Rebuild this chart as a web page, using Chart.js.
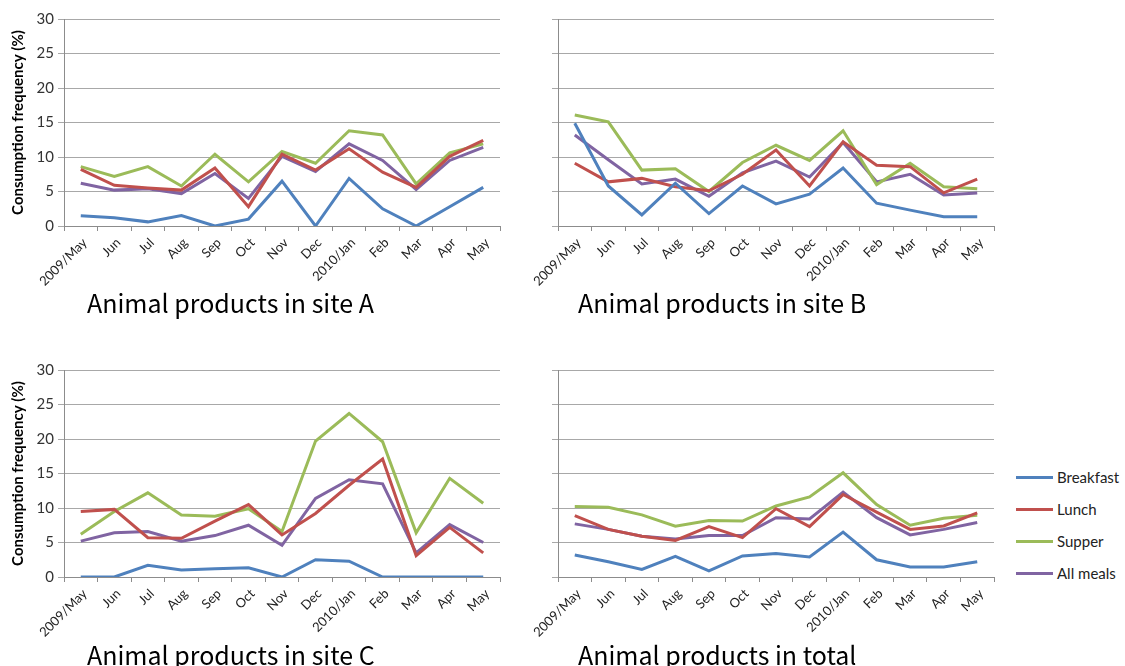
<!DOCTYPE html>
<html>
<head>
<meta charset="utf-8">
<script src="https://cdn.jsdelivr.net/npm/chart.js@4/dist/chart.umd.min.js"></script>
<style>
  html, body { margin: 0; padding: 0; background: #fff; }
  body { width: 1125px; height: 666px; position: relative; overflow: hidden; }
  .panel { position: absolute; width: 505px; height: 300px; }
  .panel canvas { display: block; }
  .ptitle { position: absolute; font-family: "Noto Sans CJK JP", "Noto Sans", sans-serif; font-size: 25px; color: #000; white-space: nowrap; line-height: 1; }
  #legend { position: absolute; left: 1016px; top: 461px; font-family: Lato, "Open Sans", sans-serif; font-size: 15px; color: #222; }
  .lg-row { height: 32px; display: flex; align-items: center; }
  .lg-line { width: 37px; height: 3px; margin-right: 4px; }
</style>
</head>
<body>
<div class="panel" id="pA" style="left:0; top:0;"><canvas id="cA" width="505" height="300"></canvas></div>
<div class="panel" id="pB" style="left:494px; top:0;"><canvas id="cB" width="505" height="300"></canvas></div>
<div class="panel" id="pC" style="left:0; top:351px;"><canvas id="cC" width="505" height="300"></canvas></div>
<div class="panel" id="pD" style="left:494px; top:351px;"><canvas id="cD" width="505" height="300"></canvas></div>
<div class="ptitle" style="left:87px; top:290px;">Animal products in site A</div>
<div class="ptitle" style="left:578px; top:290px;">Animal products in site B</div>
<div class="ptitle" style="left:87px; top:642px;">Animal products in site C</div>
<div class="ptitle" style="left:578px; top:642px;">Animal products in total</div>
<div id="legend"></div>
<script>
// Month labels, May 2009 through May 2010
const months = ['2009/May','Jun','Jul','Aug','Sep','Oct','Nov','Dec','2010/Jan','Feb','Mar','Apr','May'];
const seriesNames = ['Breakfast','Lunch','Supper','All meals'];
const seriesColors = ['#4F81BD','#C0504D','#9BBB59','#8064A2'];
const yTicks = [0, 5, 10, 15, 20, 25, 30];

// Consumption frequency (%) of animal products — site A
const siteA_breakfast = [1.5, 1.2, 0.6, 1.5, 0.0, 1.0, 6.5, 0.0, 6.9, 2.5, 0.0, 2.8, 5.6];
const siteA_lunch     = [8.2, 5.9, 5.5, 5.2, 8.4, 2.8, 10.4, 8.1, 11.2, 7.8, 5.6, 10.1, 12.4];
const siteA_supper    = [8.6, 7.2, 8.6, 5.8, 10.4, 6.4, 10.8, 9.1, 13.8, 13.2, 6.1, 10.6, 11.9];
const siteA_all       = [6.2, 5.2, 5.4, 4.7, 7.6, 4.0, 10.1, 7.9, 11.9, 9.5, 5.3, 9.5, 11.4];

// Site B
const siteB_breakfast = [14.9, 5.8, 1.6, 6.2, 1.8, 5.8, 3.2, 4.6, 8.4, 3.3, 2.3, 1.35, 1.35];
const siteB_lunch     = [9.1, 6.4, 6.9, 5.7, 5.1, 7.5, 11.0, 5.8, 12.2, 8.8, 8.6, 4.8, 6.8];
const siteB_supper    = [16.1, 15.1, 8.1, 8.3, 5.0, 9.2, 11.7, 9.5, 13.8, 6.0, 9.1, 5.7, 5.4];
const siteB_all       = [13.2, 9.6, 6.1, 6.8, 4.3, 7.7, 9.4, 7.1, 12.1, 6.4, 7.5, 4.5, 4.8];

// Site C
const siteC_breakfast = [0.0, 0.0, 1.7, 1.0, 1.2, 1.35, 0.0, 2.5, 2.3, 0.0, 0.0, 0.0, 0.0];
const siteC_lunch     = [9.5, 9.8, 5.7, 5.6, 8.1, 10.5, 6.1, 9.2, 13.3, 17.1, 3.1, 7.2, 3.5];
const siteC_supper    = [6.2, 9.5, 12.2, 9.0, 8.8, 9.9, 6.6, 19.7, 23.7, 19.6, 6.4, 14.3, 10.7];
const siteC_all       = [5.2, 6.4, 6.6, 5.2, 6.0, 7.5, 4.6, 11.4, 14.1, 13.5, 3.5, 7.6, 5.0];

// All sites combined
const total_breakfast = [3.2, 2.2, 1.1, 3.0, 0.9, 3.05, 3.4, 2.9, 6.5, 2.5, 1.45, 1.45, 2.2];
const total_lunch     = [8.9, 6.9, 5.9, 5.3, 7.3, 5.7, 9.9, 7.3, 11.95, 9.4, 6.9, 7.4, 9.3];
const total_supper    = [10.2, 10.1, 9.0, 7.35, 8.2, 8.1, 10.3, 11.6, 15.1, 10.5, 7.5, 8.5, 8.95];
const total_all       = [7.7, 6.9, 5.9, 5.5, 6.0, 6.0, 8.6, 8.4, 12.3, 8.6, 6.1, 6.9, 7.9];

const tickFont = 'Lato, "Open Sans", sans-serif';

function makeChart(id, seriesList, showYLabels) {
  const datasets = seriesList.map((vals, i) => ({
    label: seriesNames[i],
    data: vals,
    borderColor: seriesColors[i],
    backgroundColor: seriesColors[i],
    borderWidth: 3,
    pointRadius: 0,
    tension: 0,
    fill: false
  }));
  return new Chart(document.getElementById(id), {
    type: 'line',
    data: { labels: months, datasets },
    options: {
      responsive: false,
      animation: false,
      devicePixelRatio: 1,
      layout: { padding: { top: 19, right: 5, left: 0, bottom: 0 } },
      plugins: { legend: { display: false }, tooltip: { enabled: false } },
      scales: {
        x: {
          offset: true,
          clip: false,
          grid: { offset: true, drawOnChartArea: false, drawTicks: true, tickLength: 5, color: '#8c8c8c' },
          border: { color: '#8c8c8c', width: 1 },
          ticks: { autoSkip: false, minRotation: 45, maxRotation: 45, padding: 4, labelOffset: 4, color: '#222', font: { family: tickFont, size: 13 } },
          afterFit: s => { s.height = 74; }
        },
        y: {
          min: 0, max: 30,
          clip: false,
          afterBuildTicks: s => { s.ticks = yTicks.map(v => ({ value: v })); },
          grid: { color: '#a8a8a8', tickLength: 6, lineWidth: 1 },
          border: { color: '#8c8c8c', width: 1 },
          ticks: { display: showYLabels, padding: 4, color: '#333', font: { family: tickFont, size: 15 } },
          title: {
            display: showYLabels,
            text: 'Consumption frequency (%)',
            color: '#000',
            font: { family: tickFont, size: 15, weight: 'bold' },
            padding: { top: 9, bottom: 0 }
          },
          afterFit: s => { s.width = 64; }
        }
      }
    }
  });
}

makeChart('cA', [siteA_breakfast, siteA_lunch, siteA_supper, siteA_all], true);
makeChart('cB', [siteB_breakfast, siteB_lunch, siteB_supper, siteB_all], false);
makeChart('cC', [siteC_breakfast, siteC_lunch, siteC_supper, siteC_all], true);
makeChart('cD', [total_breakfast, total_lunch, total_supper, total_all], false);

// Shared legend
const lg = document.getElementById('legend');
seriesNames.forEach((n, i) => {
  const row = document.createElement('div');
  row.className = 'lg-row';
  const ln = document.createElement('span');
  ln.className = 'lg-line';
  ln.style.background = seriesColors[i];
  const tx = document.createElement('span');
  tx.textContent = n;
  row.appendChild(ln);
  row.appendChild(tx);
  lg.appendChild(row);
});
</script>
</body>
</html>
